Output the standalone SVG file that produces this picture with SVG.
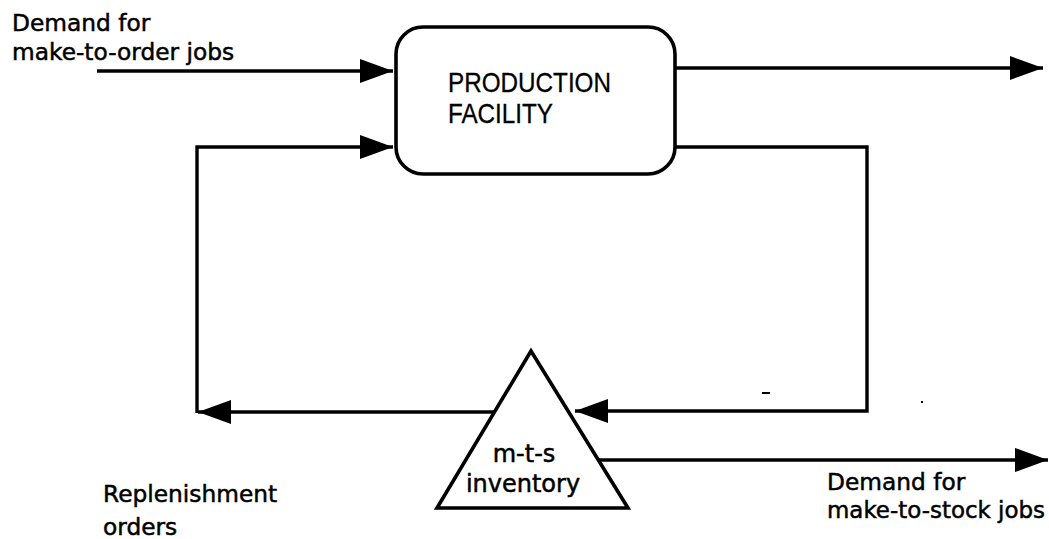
<svg xmlns="http://www.w3.org/2000/svg" width="1049" height="539" viewBox="0 0 1049 539">
<style>
.ln{fill:none;stroke:#000;stroke-width:3.4;stroke-linejoin:miter;stroke-linecap:butt}
.lbl{font-family:"DejaVu Sans",Verdana,sans-serif;font-size:23.3px;fill:#000;stroke:#000;stroke-width:0.5}
.box{font-family:"Liberation Sans",Arial,sans-serif;font-size:28px;fill:#000;stroke:#000;stroke-width:0.3}
.shape{fill:#fff;stroke:#000;stroke-width:3.6}
</style>
<defs>
<marker id="ah" markerUnits="userSpaceOnUse" markerWidth="36" markerHeight="26" refX="33" refY="12" orient="auto">
<path d="M0,0 L33,12 L0,24 z" fill="#000"/>
</marker>
</defs>
<rect width="1049" height="539" fill="#fff"/>
<g id="connectors">
<path class="ln" d="M97,71 H393" marker-end="url(#ah)"/>
<path class="ln" d="M675,68 H1043" marker-end="url(#ah)"/>
<path class="ln" d="M197,413 V147 H393" marker-end="url(#ah)"/>
<path class="ln" d="M675,147 H867 V411 H575" marker-end="url(#ah)"/>
<path class="ln" d="M495,412 H198" marker-end="url(#ah)"/>
<path class="ln" d="M598,460 H1048" marker-end="url(#ah)"/>
</g>
<g id="production-facility">
<rect class="shape" x="396" y="27" width="279" height="147" rx="27" ry="27"/>
<text class="box" x="448" y="92" textLength="163" lengthAdjust="spacingAndGlyphs">PRODUCTION</text>
<text class="box" x="448" y="123" textLength="105" lengthAdjust="spacingAndGlyphs">FACILITY</text>
</g>
<g id="mts-inventory">
<polygon class="shape" points="531,351 437,508 628,508"/>
<text class="lbl" x="524" y="462" text-anchor="middle" style="font-size:24px">m-t-s</text>
<text class="lbl" x="523" y="492" text-anchor="middle" style="font-size:24px">inventory</text>
</g>
<g id="label-mto">
<text class="lbl" x="12" y="31">Demand for</text>
<text class="lbl" x="12" y="60">make-to-order jobs</text>
</g>
<g id="label-replenishment">
<text class="lbl" x="103" y="502">Replenishment</text>
<text class="lbl" x="103" y="535">orders</text>
</g>
<g id="label-mts">
<text class="lbl" x="827" y="490">Demand for</text>
<text class="lbl" x="827" y="518" textLength="218" lengthAdjust="spacingAndGlyphs">make-to-stock jobs</text>
</g>
<rect x="762" y="392" width="8" height="2" fill="#000"/>
<rect x="921" y="401" width="2" height="2" fill="#000"/>
</svg>
